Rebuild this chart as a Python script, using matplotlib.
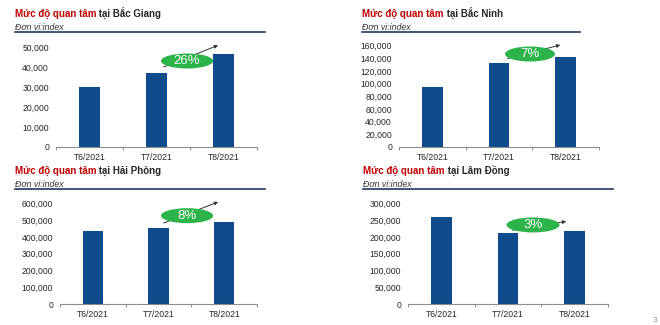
import matplotlib
matplotlib.use("Agg")
import matplotlib.pyplot as plt
from matplotlib.patches import Ellipse
from matplotlib.ticker import FuncFormatter, MultipleLocator

plt.rcParams['font.family'] = ['Liberation Sans', 'DejaVu Sans']

# dữ liệu
months = ['T6/2021', 'T7/2021', 'T8/2021']
provinces = ['Bắc Giang', 'Bắc Ninh', 'Hải Phòng', 'Lâm Đồng']
bac_giang = [29900, 36900, 46500]
bac_ninh = [94500, 133000, 142500]
hai_phong = [434000, 451000, 487000]
lam_dong = [260000, 210500, 216500]
growth = ['26%', '7%', '8%', '3%']
y_max = [50000, 160000, 600000, 300000]
y_step = [10000, 20000, 100000, 50000]

series = [bac_giang, bac_ninh, hai_phong, lam_dong]

bar_color = '#0E4C8B'
red = '#C00000'
dark = '#262626'
navy = '#1F3864'
green = '#2CB34A'

fig = plt.figure(figsize=(6.6, 3.25), dpi=100)
W, H = 660, 325

# vị trí các ô (pixel): trái, phải, đáy trục, đỉnh trục, lề tiêu đề, y tiêu đề, cuối gạch
boxes = [
    (56, 257, 147, 47, 15, 14, 265),
    (399, 599, 147, 45.7, 362, 14, 580),
    (60, 257, 304, 203.3, 15, 171, 265),
    (408, 608, 304, 203.3, 363, 171, 613),
]
# ellipse (cx, cy, w, h) và mũi tên (x0, y0, x1, y1) theo phần trục
badges = [
    ((0.652, 0.86, 0.259, 0.15), (0.522, 0.79, 0.819, 1.027)),
    ((0.655, 0.918, 0.25, 0.148), (0.53, 0.866, 0.82, 1.014)),
    ((0.645, 0.877, 0.264, 0.149), (0.513, 0.794, 0.816, 1.023)),
    ((0.625, 0.785, 0.265, 0.149), (0.51, 0.728, 0.805, 0.824)),
]

for i, vals in enumerate(series):
    left, right, bot, top, tx, ty, lend = boxes[i]
    ax = fig.add_axes([left / W, 1 - bot / H, (right - left) / W, (bot - top) / H])
    ax.bar(range(len(months)), vals, width=0.31, color=bar_color, zorder=2)
    ax.set_xlim(-0.5, len(months) - 0.5)
    ax.set_ylim(0, y_max[i])
    ax.yaxis.set_major_locator(MultipleLocator(y_step[i]))
    ax.yaxis.set_major_formatter(FuncFormatter(lambda v, p: f'{int(v):,}'))
    ax.set_xticks(range(len(months)))
    ax.set_xticklabels(months)
    ax.set_xticks([-0.5, 0.5, 1.5, 2.5], minor=True)
    ax.tick_params(axis='x', which='major', length=0, pad=4.5, labelsize=6.2, labelcolor=dark)
    ax.tick_params(axis='x', which='minor', length=2.5, color='#8c8c8c', width=0.7)
    ax.tick_params(axis='y', length=0, pad=5, labelsize=6.2, labelcolor=dark)
    for s in ['top', 'right', 'left']:
        ax.spines[s].set_visible(False)
    ax.spines['bottom'].set_color('#8c8c8c')
    ax.spines['bottom'].set_linewidth(0.8)

    # mũi tên và nhãn tăng trưởng
    (cx, cy, ew, eh), (x0, y0, x1, y1) = badges[i]
    ax.annotate('', xy=(x1, y1), xytext=(x0, y0), xycoords='axes fraction',
                arrowprops=dict(arrowstyle='-|>', color='#333333', lw=0.7,
                                mutation_scale=5), annotation_clip=False, zorder=3)
    ax.add_patch(Ellipse((cx, cy), ew, eh, transform=ax.transAxes,
                         facecolor=green, edgecolor='none', clip_on=False, zorder=4))
    ax.text(cx, cy, growth[i], transform=ax.transAxes, ha='center', va='center',
            color='white', fontsize=9.5, zorder=5)

    # tiêu đề
    t1 = fig.text(tx / W, 1 - ty / H, 'Mức độ quan tâm', color=red, fontsize=7,
                  fontweight='bold', va='center', ha='left')
    fig.texts.append(matplotlib.text.Annotation(
        ' tại ' + provinces[i], xy=(1, 0), xycoords=t1, va='bottom', ha='left',
        color=dark, fontsize=7, fontweight='bold', figure=fig))
    fig.text(tx / W, 1 - (ty + 13) / H, 'Đơn vị:index', color='#333333',
             fontsize=6.3, fontstyle='italic', va='center', ha='left')
    fig.add_artist(plt.Line2D([tx / W, lend / W], [1 - (ty + 18) / H] * 2,
                              color=navy, lw=1.2))

fig.text(655 / W, 1 - 320 / H, '3', color='#9a9a9a', fontsize=6, ha='center', va='center')

fig.savefig('out.png', dpi=100, facecolor='white')
